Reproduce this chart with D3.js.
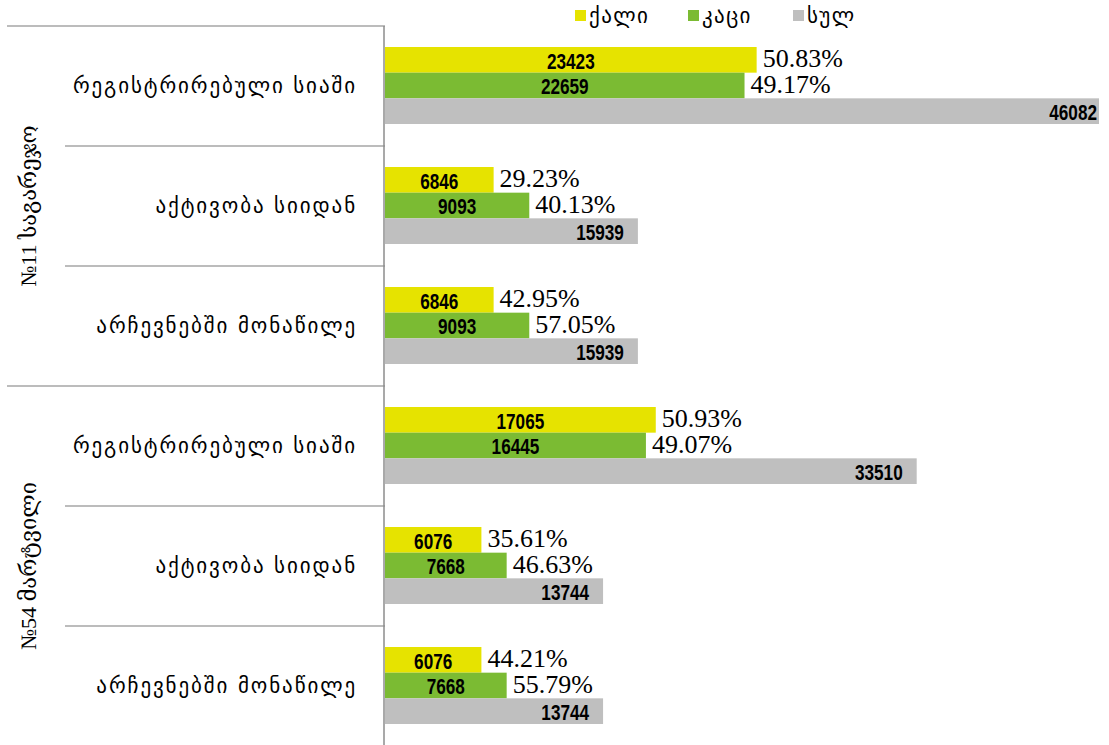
<!DOCTYPE html>
<html>
<head>
<meta charset="utf-8">
<script src="https://cdn.jsdelivr.net/npm/d3@7"></script>
<style>
body { margin: 0; background: #fff; }
</style>
</head>
<body>
<svg></svg>
<script>
var width = 1109;
var height = 745;

// data
var groups = ["№11 საგარეჯო", "№54 მარტვილი"];
var categories = ["რეგისტრირებული სიაში", "აქტივობა სიიდან", "არჩევნებში მონაწილე"];
var seriesNames = ["ქალი", "კაცი", "სულ"];
var female = [23423, 6846, 6846, 17065, 6076, 6076];
var male = [22659, 9093, 9093, 16445, 7668, 7668];
var total = [46082, 15939, 15939, 33510, 13744, 13744];
var femalePct = ["50.83%", "29.23%", "42.95%", "50.93%", "35.61%", "44.21%"];
var malePct = ["49.17%", "40.13%", "57.05%", "49.07%", "46.63%", "55.79%"];
var xMax = 45000;

var colors = ["#e6e300", "#7bbb33", "#bfbfbf"];

// build rows
var rows = [];
groups.forEach(function(g, gi) {
    categories.forEach(function(c, ci) {
        var i = gi * categories.length + ci;
        rows.push({
            key: i,
            group: g,
            cat: c,
            values: [female[i], male[i], total[i]],
            pcts: [femalePct[i], malePct[i], null]
        });
    });
});

var svg = d3.select("svg")
    .attr("width", width)
    .attr("height", height);

var plotLeft = 385, plotRight = 1099, plotTop = 26, plotBottom = 746;

//scales
var yScale = d3.scaleBand()
    .domain(rows.map(d => d.key))
    .range([plotTop, plotBottom]);
var ySub = d3.scaleBand()
    .domain([0, 1, 2])
    .range([21, 98]);
var xScale = d3.scaleLinear()
    .domain([0, xMax])
    .range([plotLeft, plotRight]);
var xClip = v => Math.min(xScale(v), plotRight);

//category separators
var lines = svg.append("g").attr("stroke", "#a6a6a6").attr("stroke-width", 1.3);
rows.forEach(function(d, i) {
    var y = yScale(d.key);
    var startX = (i % categories.length === 0) ? 7 : 65;
    lines.append("line")
        .attr("x1", startX).attr("x2", plotLeft)
        .attr("y1", y).attr("y2", y);
});

//bars
var rowG = svg.selectAll(".row")
    .data(rows)
    .enter()
    .append("g")
        .attr("class", "row")
        .attr("transform", d => "translate(0," + yScale(d.key) + ")");

rowG.selectAll("rect")
    .data(d => d.values.map((v, j) => ({v: v, j: j})))
    .enter()
    .append("rect")
        .attr("x", plotLeft)
        .attr("y", d => ySub(d.j))
        .attr("width", d => xClip(d.v) - plotLeft)
        .attr("height", ySub.bandwidth())
        .attr("fill", d => colors[d.j]);

//value labels (narrow bold, squeezed horizontally)
rowG.selectAll("text.val")
    .data(d => d.values.map((v, j) => ({v: v, j: j})))
    .enter()
    .append("text")
        .attr("class", "val")
        .attr("transform", d => {
            var x = d.j === 2 ? xClip(d.v) - (xScale(d.v) > plotRight ? 2 : 14) : (plotLeft + xClip(d.v)) / 2;
            return "translate(" + x + "," + (ySub(d.j) + ySub.bandwidth() / 2 + 1) + ") scale(0.78,1)";
        })
        .attr("dy", "0.36em")
        .style("text-anchor", d => d.j === 2 ? "end" : "middle")
        .style("font-family", "'Liberation Sans', sans-serif")
        .style("font-weight", "bold")
        .style("font-size", "22px")
        .style("fill", "#000")
        .text(d => d.v);

//percent labels
rowG.selectAll("text.pct")
    .data(d => d.values.map((v, j) => ({v: v, j: j, p: d.pcts[j]})).filter(d => d.p))
    .enter()
    .append("text")
        .attr("class", "pct")
        .attr("x", d => xClip(d.v) + 6)
        .attr("y", d => ySub(d.j) + ySub.bandwidth() / 2 - 1)
        .attr("dy", "0.33em")
        .style("font-family", "'Liberation Serif', serif")
        .style("font-size", "26px")
        .style("fill", "#000")
        .text(d => d.p);

//category labels
rowG.append("text")
    .attr("x", 357)
    .attr("y", yScale.bandwidth() / 2)
    .attr("dy", "0.35em")
    .style("text-anchor", "end")
    .style("font-family", "'DejaVu Sans', sans-serif")
    .style("font-size", "21px")
    .style("letter-spacing", "1.9px")
    .style("fill", "#000")
    .text(d => d.cat);

//group labels
groups.forEach(function(g, gi) {
    var y0 = yScale(gi * categories.length);
    var y1 = yScale((gi + 1) * categories.length - 1) + yScale.bandwidth();
    svg.append("text")
        .attr("transform", "translate(28," + (y0 + y1) / 2 + ") rotate(-90)")
        .attr("dy", "0.35em")
        .style("text-anchor", "middle")
        .style("font-family", "'Liberation Serif', 'DejaVu Serif', serif")
        .style("font-size", "22px")
        .style("fill", "#000")
        .text(g);
});

//vertical axis
svg.append("line")
    .attr("x1", plotLeft - 1).attr("x2", plotLeft - 1)
    .attr("y1", plotTop).attr("y2", height)
    .attr("stroke", "#8c8c8c")
    .attr("stroke-width", 1.5);

//legend
var legendX = [575, 688, 793];
var legend = svg.selectAll(".legend")
    .data(seriesNames)
    .enter()
    .append("g")
        .attr("class", "legend")
        .attr("transform", (d, i) => "translate(" + legendX[i] + ",10)");
legend.append("rect")
    .attr("width", 11).attr("height", 11)
    .attr("fill", (d, i) => colors[i]);
legend.append("text")
    .attr("x", 14)
    .attr("y", 6)
    .attr("dy", "0.35em")
    .style("font-family", "'DejaVu Sans', sans-serif")
    .style("font-size", "21px")
    .style("letter-spacing", "1.4px")
    .text(d => d);
</script>
</body>
</html>
